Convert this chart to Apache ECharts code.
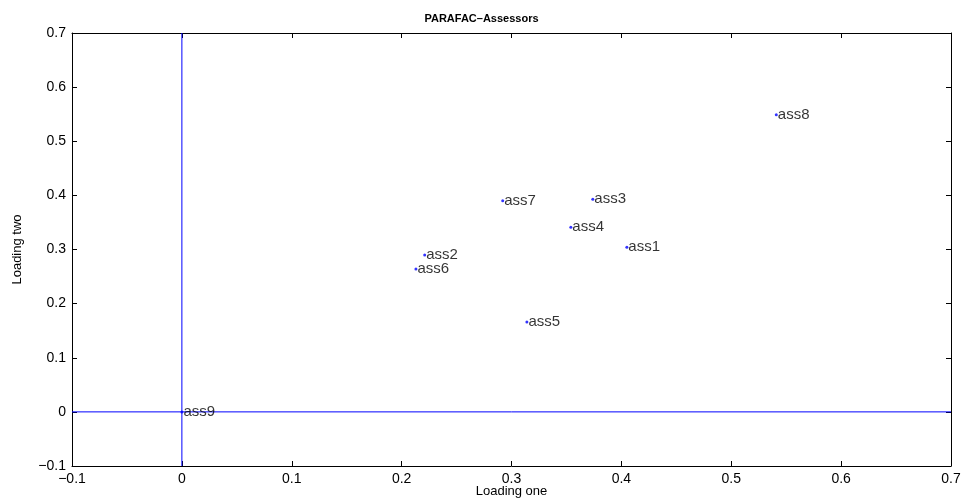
<!DOCTYPE html>
<html>
<head>
<meta charset="utf-8">
<script src="https://cdn.jsdelivr.net/npm/echarts@6/dist/echarts.min.js"></script>
<style>
  body { margin: 0; background: #fff; }
  #chart { width: 963px; height: 501px; }
</style>
</head>
<body>
<div id="chart"></div>
<script>
  // assessor loadings
  var assessors = ['ass1', 'ass2', 'ass3', 'ass4', 'ass5', 'ass6', 'ass7', 'ass8', 'ass9'];
  var loadingOne = [0.405, 0.221, 0.374, 0.354, 0.314, 0.213, 0.292, 0.541, 0.000];
  var loadingTwo = [0.304, 0.290, 0.393, 0.341, 0.166, 0.264, 0.390, 0.549, 0.000];

  var axisMin = -0.1, axisMax = 0.7, step = 0.1;
  var font = '"Liberation Sans", Arial, Helvetica, sans-serif';

  function tickText(v) {
    var r = Math.round(v * 10) / 10;
    return String(r).replace('-', '\u2212');
  }

  var points = assessors.map(function (n, i) {
    return [loadingOne[i], loadingTwo[i], n];
  });

  function valueAxis(pos, showLabel, extra) {
    var ax = {
      type: 'value',
      position: pos,
      min: axisMin,
      max: axisMax,
      interval: step,
      splitLine: { show: false },
      axisLine: { show: true, onZero: false, lineStyle: { color: '#000', width: 1 } },
      axisTick: { show: true, inside: true, length: 5, lineStyle: { color: '#000' } },
      axisLabel: {
        show: showLabel,
        margin: 6,
        formatter: tickText,
        color: '#000',
        fontSize: 14,
        fontFamily: font
      }
    };
    for (var k in extra) ax[k] = extra[k];
    return ax;
  }

  var blueLine = { color: '#0000ff', width: 1, type: 'solid' };

  var chart = echarts.init(document.getElementById('chart'));
  chart.setOption({
    animation: false,
    backgroundColor: '#fff',
    title: {
      text: 'PARAFAC\u2013Assessors',
      left: 'center',
      top: 8,
      textStyle: { fontSize: 11, fontWeight: 'bold', color: '#000', fontFamily: font }
    },
    grid: { left: 72, right: 12, top: 33, bottom: 35, outerBoundsMode: 'none' },
    xAxis: [
      valueAxis('bottom', true, {
        name: 'Loading one',
        nameLocation: 'middle',
        nameGap: 19,
        nameMoveOverlap: false,
        nameTextStyle: { fontSize: 13, color: '#000', fontFamily: font }
      }),
      valueAxis('top', false, {})
    ],
    yAxis: [
      valueAxis('left', true, {
        name: 'Loading two',
        nameLocation: 'middle',
        nameGap: 48,
        nameMoveOverlap: false,
        nameTextStyle: { fontSize: 13, color: '#000', fontFamily: font }
      }),
      valueAxis('right', false, {})
    ],
    series: [
      {
        // x = 0 reference line
        type: 'line',
        data: [[0, axisMin], [0, axisMax]],
        symbol: 'none',
        lineStyle: blueLine,
        silent: true,
        z: 1
      },
      {
        // y = 0 reference line
        type: 'line',
        data: [[axisMin, 0], [axisMax, 0]],
        symbol: 'none',
        lineStyle: blueLine,
        silent: true,
        z: 1
      },
      {
        type: 'scatter',
        data: points,
        symbol: 'circle',
        symbolSize: 3,
        itemStyle: { color: '#0000ff' },
        label: {
          show: true,
          position: 'right',
          distance: 0,
          formatter: function (p) { return p.data[2]; },
          color: '#000',
          fontSize: 15,
          fontFamily: font
        },
        z: 3
      }
    ]
  });
</script>
</body>
</html>
